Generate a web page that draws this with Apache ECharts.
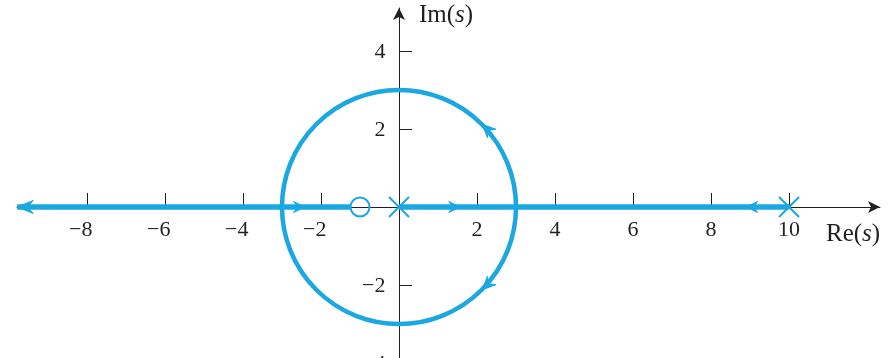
<!DOCTYPE html>
<html>
<head>
<meta charset="utf-8">
<script src="https://cdn.jsdelivr.net/npm/echarts@6/dist/echarts.min.js"></script>
<style>
  html, body { margin: 0; padding: 0; background: #fff; }
  #chart { width: 892px; height: 358px; }
</style>
</head>
<body>
<div id="chart"></div>
<script>
// Root locus: open-loop poles at 0 and 10, zero at -1.
var xTicks = [-8, -6, -4, -2, 2, 4, 6, 8, 10];
var yTicks = [-4, -2, 2, 4];

// Branches on the real axis, [start, end]; the branch into the zero stops at its ring
var realSegments = [[0, 3], [10, 3], [-3, -1.25], [-3, -9.79]];

// Complex branch: circle [centerRe, centerIm, radius]
var locusCircle = [[0, 0, 3]];

// Direction arrows: [re, im, heading in degrees, length px, width px]
var arrows = [
  [-9.79, 0, 180, 16, 13],
  [-2.42, 0, 0, 11, 11],
  [1.56, 0, 0, 11, 11],
  [8.91, 0, 180, 11, 11],
  [2.14, 2.12, 135, 13, 12],
  [2.14, -2.12, 225, 13, 12]
];

var poles = [[0, 0], [10, 0]];
var zeros = [[-1, 0]];

var BLUE = '#1ba7e2';
var INK = '#231f20';
var FONT = 'Liberation Serif';

var chart = echarts.init(document.getElementById('chart'));

var series = [];
realSegments.forEach(function (seg) {
  series.push({
    type: 'line',
    data: [[seg[0], 0], [seg[1], 0]],
    symbol: 'none',
    silent: true,
    lineStyle: { color: BLUE, width: 5.5 },
    z: 3
  });
});

series.push({
  type: 'custom',
  data: locusCircle,
  silent: true,
  z: 3,
  renderItem: function (params, api) {
    var c = api.coord([api.value(0), api.value(1)]);
    var r = api.size([api.value(2), 0])[0];
    return {
      type: 'circle',
      shape: { cx: c[0], cy: c[1], r: r },
      style: { fill: 'none', stroke: BLUE, lineWidth: 4.5 }
    };
  }
});

series.push({
  type: 'custom',
  data: arrows,
  silent: true,
  z: 4,
  renderItem: function (params, api) {
    var p = api.coord([api.value(0), api.value(1)]);
    var a = -api.value(2) * Math.PI / 180;
    var L = api.value(3), W = api.value(4), notch = 0.65;
    var local = [[0, 0], [-L, -W / 2], [-L * notch, 0], [-L, W / 2]];
    var pts = local.map(function (q) {
      return [p[0] + q[0] * Math.cos(a) - q[1] * Math.sin(a),
              p[1] + q[0] * Math.sin(a) + q[1] * Math.cos(a)];
    });
    return {
      type: 'polygon',
      shape: { points: pts },
      style: { fill: BLUE, stroke: BLUE, lineWidth: 1 }
    };
  }
});

series.push({
  type: 'custom',
  data: poles,
  silent: true,
  z: 5,
  renderItem: function (params, api) {
    var p = api.coord([api.value(0), api.value(1)]);
    var h = 10;
    return {
      type: 'group',
      children: [
        { type: 'line', shape: { x1: p[0] - h, y1: p[1] - h, x2: p[0] + h, y2: p[1] + h },
          style: { stroke: BLUE, lineWidth: 2 } },
        { type: 'line', shape: { x1: p[0] - h, y1: p[1] + h, x2: p[0] + h, y2: p[1] - h },
          style: { stroke: BLUE, lineWidth: 2 } }
      ]
    };
  }
});

series.push({
  type: 'custom',
  data: zeros,
  silent: true,
  z: 5,
  renderItem: function (params, api) {
    var p = api.coord([api.value(0), api.value(1)]);
    return {
      type: 'circle',
      shape: { cx: p[0], cy: p[1], r: 9.5 },
      style: { fill: 'none', stroke: BLUE, lineWidth: 2 }
    };
  }
});

var axisLineCommon = {
  onZero: true,
  symbol: ['none', 'arrow'],
  symbolSize: [9, 12],
  lineStyle: { color: INK, width: 1 }
};

chart.setOption({
  animation: false,
  grid: { left: 17, right: 12, top: 8, height: 380, containLabel: false, outerBoundsMode: 'none' },
  xAxis: {
    type: 'value',
    min: -9.795, max: 12.333,
    splitLine: { show: false },
    axisLine: axisLineCommon,
    axisTick: {
      show: true, inside: true, length: 14, customValues: xTicks,
      lineStyle: { color: INK, width: 1 }
    },
    axisLabel: { show: false }
  },
  yAxis: {
    type: 'value',
    min: -4.641, max: 5.1026,
    splitLine: { show: false },
    axisLine: axisLineCommon,
    axisTick: {
      show: true, inside: true, length: 13, customValues: yTicks,
      lineStyle: { color: INK, width: 1 }
    },
    axisLabel: { show: false }
  },
  series: series
});

// Tick labels sit next to the axes that cross at the origin
function numText(v) {
  return v < 0 ? '\u2212' + Math.abs(v) : String(v);
}
var DIGIT = 11; // digit advance at 22px
var labelStyle = { fontFamily: FONT, fontSize: 22, fill: INK };
var graphics = [];

xTicks.forEach(function (v) {
  var p = chart.convertToPixel({ gridIndex: 0 }, [v, 0]);
  var digits = String(Math.abs(v)).length;
  graphics.push({
    type: 'text', x: p[0] + digits * DIGIT / 2, y: p[1] + 23.5, silent: true,
    style: Object.assign({ text: numText(v), align: 'right', verticalAlign: 'middle' }, labelStyle)
  });
});

yTicks.forEach(function (v) {
  var p = chart.convertToPixel({ gridIndex: 0 }, [0, v]);
  graphics.push({
    type: 'text', x: p[0] - 13.5, y: p[1] + 1.5, silent: true,
    style: Object.assign({ text: numText(v), align: 'right', verticalAlign: 'middle' }, labelStyle)
  });
});

var nameRich = {
  r: { fontFamily: FONT, fontSize: 25, fill: INK },
  i: { fontFamily: FONT, fontSize: 25, fontStyle: 'italic', fill: INK }
};
graphics.push({
  type: 'text', left: 419, top: 3, silent: true,
  style: { rich: nameRich, text: '{r|Im(}{i|s}{r|)}' }
});
graphics.push({
  type: 'text', left: 826, top: 222, silent: true,
  style: { rich: nameRich, text: '{r|Re(}{i|s}{r|)}' }
});

chart.setOption({ graphic: graphics });
</script>
</body>
</html>
